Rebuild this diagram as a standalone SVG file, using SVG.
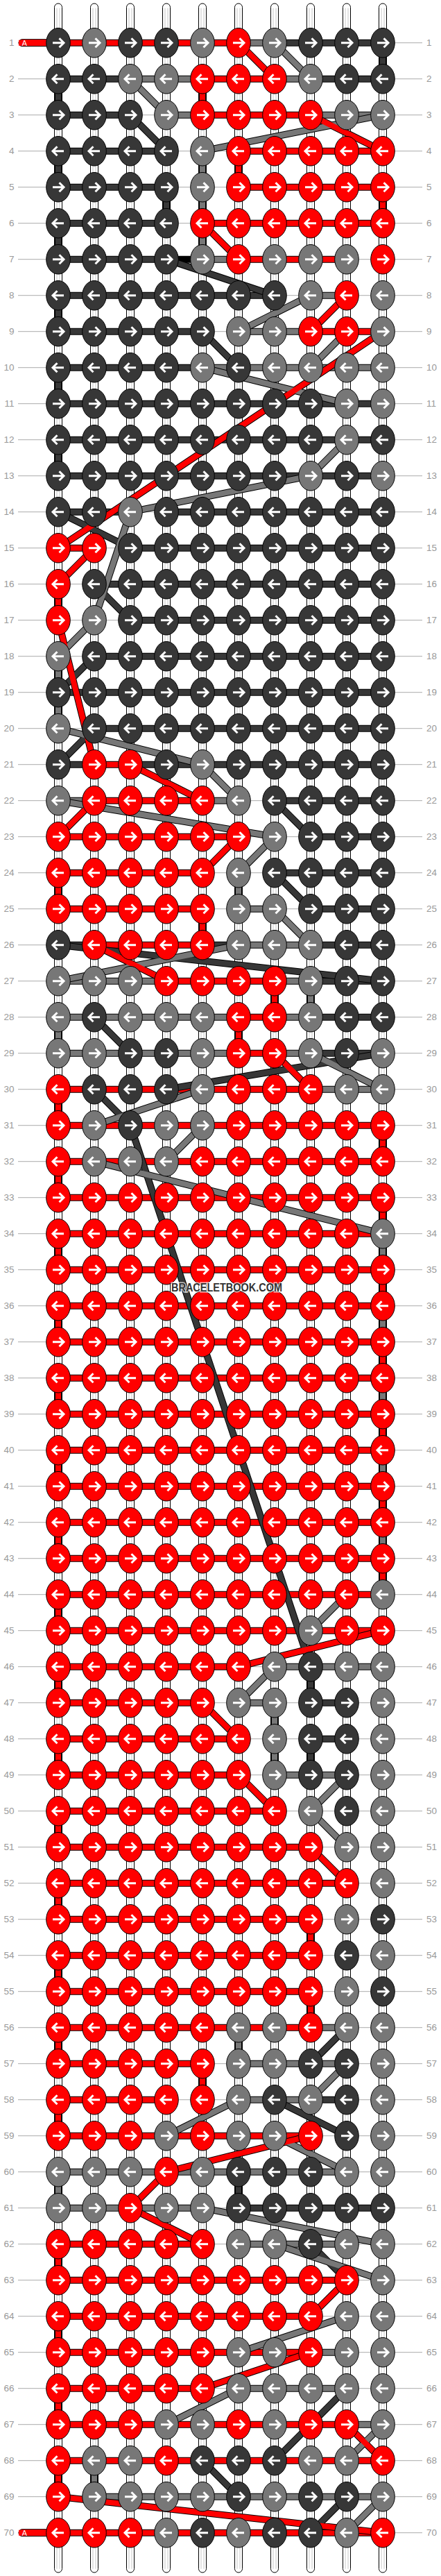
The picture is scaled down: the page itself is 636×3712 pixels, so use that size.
<svg xmlns="http://www.w3.org/2000/svg" width="636" height="3712" viewBox="0 0 636 3712">
<style>
.o{fill:none;stroke:#000;stroke-width:10}
.cR{fill:none;stroke:#f00;stroke-width:8}
.cG{fill:none;stroke:#777;stroke-width:8}
.cD{fill:none;stroke:#373737;stroke-width:8}
.lbl text{font-family:"Liberation Sans",Arial,sans-serif;font-size:13.5px;fill:#999}
.aw{fill:none;stroke:#fff;stroke-width:3}
</style>
<defs>
<g id="tb"><rect x="-5.5" y="-56.7" width="11" height="3702" rx="5.5" fill="#fff" stroke="#000"/><path d="M-2,-50V3640M2,-50V3640" stroke="#c8c8c8" stroke-width="1"/></g>
<path id="ar" d="M-8,0H7M1.5,-6.5L8,0L1.5,6.5" class="aw"/>
<path id="al" d="M8,0H-7M-1.5,-6.5L-8,0L-1.5,6.5" class="aw"/>
<g id="rR"><ellipse rx="17.3" ry="21.3" fill="#f00" stroke="#000"/><use href="#ar"/></g>
<g id="rG"><ellipse rx="17.3" ry="21.3" fill="#777" stroke="#000"/><use href="#ar"/></g>
<g id="rD"><ellipse rx="17.3" ry="21.3" fill="#373737" stroke="#000"/><use href="#ar"/></g>
<g id="lR"><ellipse rx="17.3" ry="21.3" fill="#f00" stroke="#000"/><use href="#al"/></g>
<g id="lG"><ellipse rx="17.3" ry="21.3" fill="#777" stroke="#000"/><use href="#al"/></g>
<g id="lD"><ellipse rx="17.3" ry="21.3" fill="#373737" stroke="#000"/><use href="#al"/></g>
</defs>
<rect width="636" height="3712" fill="#fff"/>
<g transform="translate(0,61.7)">
<g id="rowlines"><path fill="none" stroke="#bbb" stroke-width="1.3" d="M26 0H609M26 52H609M26 104H609M26 156H609M26 208H609M26 260H609M26 312H609M26 364H609M26 416H609M26 468H609M26 520H609M26 572H609M26 624H609M26 676H609M26 728H609M26 780H609M26 832H609M26 884H609M26 936H609M26 988H609M26 1040H609M26 1092H609M26 1144H609M26 1196H609M26 1248H609M26 1300H609M26 1352H609M26 1404H609M26 1456H609M26 1508H609M26 1560H609M26 1612H609M26 1664H609M26 1716H609M26 1768H609M26 1820H609M26 1872H609M26 1924H609M26 1976H609M26 2028H609M26 2080H609M26 2132H609M26 2184H609M26 2236H609M26 2288H609M26 2340H609M26 2392H609M26 2444H609M26 2496H609M26 2548H609M26 2600H609M26 2652H609M26 2704H609M26 2756H609M26 2808H609M26 2860H609M26 2912H609M26 2964H609M26 3016H609M26 3068H609M26 3120H609M26 3172H609M26 3224H609M26 3276H609M26 3328H609M26 3380H609M26 3432H609M26 3484H609M26 3536H609M26 3588H609"/></g>
<g id="labels" class="lbl">
<g text-anchor="end">
<text x="20.5" y="4.7">1</text><text x="20.5" y="56.7">2</text><text x="20.5" y="108.7">3</text><text x="20.5" y="160.7">4</text><text x="20.5" y="212.7">5</text><text x="20.5" y="264.7">6</text><text x="20.5" y="316.7">7</text><text x="20.5" y="368.7">8</text><text x="20.5" y="420.7">9</text><text x="20.5" y="472.7">10</text><text x="20.5" y="524.7">11</text><text x="20.5" y="576.7">12</text><text x="20.5" y="628.7">13</text><text x="20.5" y="680.7">14</text><text x="20.5" y="732.7">15</text><text x="20.5" y="784.7">16</text><text x="20.5" y="836.7">17</text><text x="20.5" y="888.7">18</text><text x="20.5" y="940.7">19</text><text x="20.5" y="992.7">20</text><text x="20.5" y="1044.7">21</text><text x="20.5" y="1096.7">22</text><text x="20.5" y="1148.7">23</text><text x="20.5" y="1200.7">24</text><text x="20.5" y="1252.7">25</text><text x="20.5" y="1304.7">26</text><text x="20.5" y="1356.7">27</text><text x="20.5" y="1408.7">28</text><text x="20.5" y="1460.7">29</text><text x="20.5" y="1512.7">30</text><text x="20.5" y="1564.7">31</text><text x="20.5" y="1616.7">32</text><text x="20.5" y="1668.7">33</text><text x="20.5" y="1720.7">34</text><text x="20.5" y="1772.7">35</text><text x="20.5" y="1824.7">36</text><text x="20.5" y="1876.7">37</text><text x="20.5" y="1928.7">38</text><text x="20.5" y="1980.7">39</text><text x="20.5" y="2032.7">40</text><text x="20.5" y="2084.7">41</text><text x="20.5" y="2136.7">42</text><text x="20.5" y="2188.7">43</text><text x="20.5" y="2240.7">44</text><text x="20.5" y="2292.7">45</text><text x="20.5" y="2344.7">46</text><text x="20.5" y="2396.7">47</text><text x="20.5" y="2448.7">48</text><text x="20.5" y="2500.7">49</text><text x="20.5" y="2552.7">50</text><text x="20.5" y="2604.7">51</text><text x="20.5" y="2656.7">52</text><text x="20.5" y="2708.7">53</text><text x="20.5" y="2760.7">54</text><text x="20.5" y="2812.7">55</text><text x="20.5" y="2864.7">56</text><text x="20.5" y="2916.7">57</text><text x="20.5" y="2968.7">58</text><text x="20.5" y="3020.7">59</text><text x="20.5" y="3072.7">60</text><text x="20.5" y="3124.7">61</text><text x="20.5" y="3176.7">62</text><text x="20.5" y="3228.7">63</text><text x="20.5" y="3280.7">64</text><text x="20.5" y="3332.7">65</text><text x="20.5" y="3384.7">66</text><text x="20.5" y="3436.7">67</text><text x="20.5" y="3488.7">68</text><text x="20.5" y="3540.7">69</text><text x="20.5" y="3592.7">70</text>
</g>
<g>
<text x="615" y="4.7">1</text><text x="615" y="56.7">2</text><text x="615" y="108.7">3</text><text x="615" y="160.7">4</text><text x="615" y="212.7">5</text><text x="615" y="264.7">6</text><text x="615" y="316.7">7</text><text x="615" y="368.7">8</text><text x="615" y="420.7">9</text><text x="615" y="472.7">10</text><text x="615" y="524.7">11</text><text x="615" y="576.7">12</text><text x="615" y="628.7">13</text><text x="615" y="680.7">14</text><text x="615" y="732.7">15</text><text x="615" y="784.7">16</text><text x="615" y="836.7">17</text><text x="615" y="888.7">18</text><text x="615" y="940.7">19</text><text x="615" y="992.7">20</text><text x="615" y="1044.7">21</text><text x="615" y="1096.7">22</text><text x="615" y="1148.7">23</text><text x="615" y="1200.7">24</text><text x="615" y="1252.7">25</text><text x="615" y="1304.7">26</text><text x="615" y="1356.7">27</text><text x="615" y="1408.7">28</text><text x="615" y="1460.7">29</text><text x="615" y="1512.7">30</text><text x="615" y="1564.7">31</text><text x="615" y="1616.7">32</text><text x="615" y="1668.7">33</text><text x="615" y="1720.7">34</text><text x="615" y="1772.7">35</text><text x="615" y="1824.7">36</text><text x="615" y="1876.7">37</text><text x="615" y="1928.7">38</text><text x="615" y="1980.7">39</text><text x="615" y="2032.7">40</text><text x="615" y="2084.7">41</text><text x="615" y="2136.7">42</text><text x="615" y="2188.7">43</text><text x="615" y="2240.7">44</text><text x="615" y="2292.7">45</text><text x="615" y="2344.7">46</text><text x="615" y="2396.7">47</text><text x="615" y="2448.7">48</text><text x="615" y="2500.7">49</text><text x="615" y="2552.7">50</text><text x="615" y="2604.7">51</text><text x="615" y="2656.7">52</text><text x="615" y="2708.7">53</text><text x="615" y="2760.7">54</text><text x="615" y="2812.7">55</text><text x="615" y="2864.7">56</text><text x="615" y="2916.7">57</text><text x="615" y="2968.7">58</text><text x="615" y="3020.7">59</text><text x="615" y="3072.7">60</text><text x="615" y="3124.7">61</text><text x="615" y="3176.7">62</text><text x="615" y="3228.7">63</text><text x="615" y="3280.7">64</text><text x="615" y="3332.7">65</text><text x="615" y="3384.7">66</text><text x="615" y="3436.7">67</text><text x="615" y="3488.7">68</text><text x="615" y="3540.7">69</text><text x="615" y="3592.7">70</text>
</g>
</g>
<g id="strands"><use href="#tb" x="84"/><use href="#tb" x="136"/><use href="#tb" x="188"/><use href="#tb" x="240"/><use href="#tb" x="292"/><use href="#tb" x="344"/><use href="#tb" x="396"/><use href="#tb" x="448"/><use href="#tb" x="500"/><use href="#tb" x="552"/></g>
<g id="connectors">
<g id="starts"><rect x="27" y="-5" width="70" height="10" rx="5" fill="#f00" stroke="#000"/><rect x="27" y="3583" width="70" height="10" rx="5" fill="#f00" stroke="#000"/></g>
<path id="bars-outline" class="o" d="M84 0H552M84 52H552M84 104H188M240 104H552M84 156H240M344 156H552M84 208H240M344 208H552M84 260H240M292 260H552M84 312H500M84 364H396M448 364H500M84 416H292M344 416H552M84 468H552M84 520H552M84 572H552M84 624H552M84 676H188M240 676H552M84 728H136M188 728H552M136 780H552M188 832H552M136 884H552M84 936H552M136 988H552M84 1040H552M84 1092H344M396 1092H552M84 1144H344M448 1144H552M84 1196H292M396 1196H552M84 1248H292M344 1248H396M448 1248H552M84 1300H552M84 1352H552M84 1404H552M84 1456H552M84 1508H552M84 1560H552M84 1612H552M84 1664H552M84 1716H552M84 1768H552M84 1820H552M84 1872H552M84 1924H552M84 1976H552M84 2028H552M84 2080H552M84 2132H552M84 2184H552M84 2236H552M84 2288H552M84 2340H344M396 2340H552M84 2392H292M344 2392H396M448 2392H500M84 2444H344M448 2444H500M84 2496H344M396 2496H500M84 2548H396M84 2600H448M84 2652H500M84 2704H448M84 2756H448M84 2808H448M84 2860H500M84 2912H292M344 2912H500M84 2964H240M344 2964H500M84 3016H448M84 3068H500M84 3120H292M344 3120H552M84 3172H292M344 3172H500M84 3224H500M84 3276H448M84 3328H500M84 3380H292M344 3380H500M84 3432H552M84 3484H552M136 3536H552M84 3588H552M552 0V52M84 52V104M84 156V208M240 208V260M84 260V312M84 364V416M84 468V520M84 572V624M448 2340V2392M448 2444V2496M344 3068V3120M292 52V104M344 156V208M552 208V260M84 780V832M84 1196V1248M292 1248V1300M396 1352V1404M344 1404V1456M84 1508V1560M552 1560V1612M552 1664V1716M552 1768V1820M552 1872V1924M552 1976V2028M552 2080V2132M552 2184V2236M84 1612V1664M84 1716V1768M84 1820V1872M84 1924V1976M84 2028V2080M84 2132V2184M84 2236V2288M84 2340V2392M84 2444V2496M84 2548V2600M84 2652V2704M84 2756V2808M84 2860V2912M84 2964V3016M84 3172V3224M84 3276V3328M84 3380V3432M84 3484V3536M448 2704V2756M448 2808V2860M292 2912V2964M292 156V312M84 884V988M344 1196V1248M448 1352V1404M84 1404V1456M552 1716V1768M552 1820V1872M552 1924V1976M552 2028V2080M552 2132V2184M396 2392V2496M344 2860V2912M84 3068V3120M136 3484V3536"/>
<path id="bars-red" class="cR" d="M27 0H344M292 52H396M292 104H448M344 156H552M344 208H552M292 260H552M344 312H500M448 416H552M84 728H136M136 1040H188M136 1092H292M84 1144H344M84 1196H292M84 1248H292M136 1300H292M240 1352H396M344 1404H396M344 1456H396M84 1508H448M84 1560H552M84 1612H552M84 1664H552M84 1716H552M84 1768H552M84 1820H552M84 1872H552M84 1924H552M84 1976H552M84 2028H552M84 2080H552M84 2132H552M84 2184H552M84 2236H552M84 2288H552M84 2340H344M84 2392H292M84 2444H344M84 2496H344M84 2548H396M84 2600H448M84 2652H500M84 2704H448M84 2756H448M84 2808H448M84 2860H448M84 2912H292M84 2964H240M84 3016H448M84 3172H292M84 3224H500M84 3276H448M84 3328H448M84 3380H292M84 3432H500M84 3484H552M27 3588H552M292 52V104M344 156V208M552 208V260M84 780V832M84 1196V1248M292 1248V1300M396 1352V1404M344 1404V1456M84 1508V1560M552 1560V1612M552 1664V1716M552 1768V1820M552 1872V1924M552 1976V2028M552 2080V2132M552 2184V2236M84 1612V1664M84 1716V1768M84 1820V1872M84 1924V1976M84 2028V2080M84 2132V2184M84 2236V2288M84 2340V2392M84 2444V2496M84 2548V2600M84 2652V2704M84 2756V2808M84 2860V2912M84 2964V3016M84 3172V3224M84 3276V3328M84 3380V3432M84 3484V3536M448 2704V2756M448 2808V2860M292 2912V2964"/>
<path id="bars-gray" class="cG" d="M344 0H396M188 52H292M396 52H448M240 104H292M448 104H552M292 312H344M448 364H500M344 416H448M292 468H552M84 1092H136M292 1092H344M344 1248H396M344 1300H448M84 1352H240M396 1352H448M84 1404H344M396 1404H448M84 1456H344M396 1456H448M448 1508H552M396 2340H552M344 2392H396M396 2496H500M448 2860H500M344 2912H500M344 2964H448M84 3068H500M84 3120H292M344 3172H500M448 3328H500M344 3380H500M500 3432H552M136 3536H552M292 156V312M84 884V988M344 1196V1248M448 1352V1404M84 1404V1456M552 1716V1768M552 1820V1872M552 1924V1976M552 2028V2080M552 2132V2184M396 2392V2496M344 2860V2912M84 3068V3120M136 3484V3536"/>
<path id="bars-dark" class="cD" d="M396 0H552M84 52H188M448 52H552M84 104H188M84 156H240M84 208H240M84 260H240M84 312H240M84 364H396M84 416H292M84 468H292M84 520H552M84 572H552M84 624H552M84 676H188M240 676H552M188 728H552M136 780H552M188 832H552M136 884H552M84 936H552M136 988H552M84 1040H136M188 1040H552M396 1092H552M448 1144H552M396 1196H552M448 1248H552M84 1300H136M292 1300H344M448 1300H552M448 1352H552M448 1404H552M448 1456H552M448 2392H500M448 2444H500M448 2964H500M344 3120H552M552 0V52M84 52V104M84 156V208M240 208V260M84 260V312M84 364V416M84 468V520M84 572V624M448 2340V2392M448 2444V2496M344 3068V3120"/>
<path id="diag-outline" class="o" d="M344 0L396 52M448 104L552 156M292 260L344 312M500 364L448 416M552 416L84 728M136 728L84 780M84 832L136 1040M188 1040L292 1092M136 1092L84 1144M344 1144L292 1196M136 1300L240 1352M396 1456L448 1508M552 2288L344 2340M292 2392L344 2444M344 2496L396 2548M448 2600L500 2652M448 3016L240 3068M240 3068L188 3120M188 3120L292 3172M500 3224L448 3276M448 3328L292 3380M500 3432L552 3484M84 3536L552 3588M396 0L448 52M188 52L240 104M552 104L292 156M448 364L344 416M500 416L448 468M292 468L500 520M500 572L448 624M448 624L188 676M188 676L136 832M136 832L84 884M84 988L292 1040M292 1040L344 1092M84 1092L396 1144M396 1144L344 1196M396 1248L448 1300M344 1300L84 1352M448 1456L552 1508M292 1508L136 1560M292 1560L240 1612M136 1612L552 1716M500 2236L448 2288M396 2340L344 2392M500 2496L448 2548M448 2548L500 2600M500 2912L448 2964M344 2964L240 3016M396 3016L500 3068M292 3120L552 3172M396 3172L552 3224M500 3276L344 3328M344 3380L240 3432M552 3432L500 3484M552 3536L500 3588M188 104L240 156M240 312L396 364M292 416L344 468M84 676L188 728M136 780L188 832M136 884L84 936M136 988L84 1040M396 1092L448 1144M396 1196L448 1248M84 1300L552 1352M136 1404L188 1456M552 1456L240 1508M136 1508L188 1560M188 1560L448 2340M500 2860L448 2912M396 2964L500 3016M448 3172L500 3224M500 3380L396 3484M292 3484L344 3536M500 3536L448 3588"/>
<path id="diag-dark" class="cD" d="M188 104L240 156M240 312L396 364M292 416L344 468M84 676L188 728M136 780L188 832M136 884L84 936M136 988L84 1040M396 1092L448 1144M396 1196L448 1248M84 1300L552 1352M136 1404L188 1456M552 1456L240 1508M136 1508L188 1560M188 1560L448 2340M500 2860L448 2912M396 2964L500 3016M448 3172L500 3224M500 3380L396 3484M292 3484L344 3536M500 3536L448 3588"/>
<path id="diag-gray" class="cG" d="M396 0L448 52M188 52L240 104M552 104L292 156M448 364L344 416M500 416L448 468M292 468L500 520M500 572L448 624M448 624L188 676M188 676L136 832M136 832L84 884M84 988L292 1040M292 1040L344 1092M84 1092L396 1144M396 1144L344 1196M396 1248L448 1300M344 1300L84 1352M448 1456L552 1508M292 1508L136 1560M292 1560L240 1612M136 1612L552 1716M500 2236L448 2288M396 2340L344 2392M500 2496L448 2548M448 2548L500 2600M500 2912L448 2964M344 2964L240 3016M396 3016L500 3068M292 3120L552 3172M396 3172L552 3224M500 3276L344 3328M344 3380L240 3432M552 3432L500 3484M552 3536L500 3588"/>
<path id="diag-red" class="cR" d="M344 0L396 52M448 104L552 156M292 260L344 312M500 364L448 416M552 416L84 728M136 728L84 780M84 832L136 1040M188 1040L292 1092M136 1092L84 1144M344 1144L292 1196M136 1300L240 1352M396 1456L448 1508M552 2288L344 2340M292 2392L344 2444M344 2496L396 2548M448 2600L500 2652M448 3016L240 3068M240 3068L188 3120M188 3120L292 3172M500 3224L448 3276M448 3328L292 3380M500 3432L552 3484M84 3536L552 3588"/>
<g id="start-labels" font-family="'DejaVu Sans',sans-serif" font-size="11" fill="#fff"><text x="31.5" y="4">A</text><text x="31.5" y="3592">A</text></g>
</g>
<g id="knots">
<g id="row1"><use id="k1-1" href="#rD" x="84"/><use id="k1-2" href="#rG" x="136"/><use id="k1-3" href="#rD" x="188"/><use id="k1-4" href="#rD" x="240"/><use id="k1-5" href="#rG" x="292"/><use id="k1-6" href="#rR" x="344"/><use id="k1-7" href="#rG" x="396"/><use id="k1-8" href="#rD" x="448"/><use id="k1-9" href="#rD" x="500"/><use id="k1-10" href="#rD" x="552"/></g>
<g id="row2" transform="translate(0,52)"><use id="k2-1" href="#lD" x="84"/><use id="k2-2" href="#lD" x="136"/><use id="k2-3" href="#lG" x="188"/><use id="k2-4" href="#lG" x="240"/><use id="k2-5" href="#lR" x="292"/><use id="k2-6" href="#lR" x="344"/><use id="k2-7" href="#lR" x="396"/><use id="k2-8" href="#lG" x="448"/><use id="k2-9" href="#lD" x="500"/><use id="k2-10" href="#lD" x="552"/></g>
<g id="row3" transform="translate(0,104)"><use id="k3-1" href="#rD" x="84"/><use id="k3-2" href="#rD" x="136"/><use id="k3-3" href="#rD" x="188"/><use id="k3-4" href="#rG" x="240"/><use id="k3-5" href="#rR" x="292"/><use id="k3-6" href="#rR" x="344"/><use id="k3-7" href="#rR" x="396"/><use id="k3-8" href="#rR" x="448"/><use id="k3-9" href="#rG" x="500"/><use id="k3-10" href="#rG" x="552"/></g>
<g id="row4" transform="translate(0,156)"><use id="k4-1" href="#lD" x="84"/><use id="k4-2" href="#lD" x="136"/><use id="k4-3" href="#lD" x="188"/><use id="k4-4" href="#lD" x="240"/><use id="k4-5" href="#lG" x="292"/><use id="k4-6" href="#lR" x="344"/><use id="k4-7" href="#lR" x="396"/><use id="k4-8" href="#lR" x="448"/><use id="k4-9" href="#lR" x="500"/><use id="k4-10" href="#lR" x="552"/></g>
<g id="row5" transform="translate(0,208)"><use id="k5-1" href="#rD" x="84"/><use id="k5-2" href="#rD" x="136"/><use id="k5-3" href="#rD" x="188"/><use id="k5-4" href="#rD" x="240"/><use id="k5-5" href="#rG" x="292"/><use id="k5-6" href="#rR" x="344"/><use id="k5-7" href="#rR" x="396"/><use id="k5-8" href="#rR" x="448"/><use id="k5-9" href="#rR" x="500"/><use id="k5-10" href="#rR" x="552"/></g>
<g id="row6" transform="translate(0,260)"><use id="k6-1" href="#lD" x="84"/><use id="k6-2" href="#lD" x="136"/><use id="k6-3" href="#lD" x="188"/><use id="k6-4" href="#lD" x="240"/><use id="k6-5" href="#lR" x="292"/><use id="k6-6" href="#lR" x="344"/><use id="k6-7" href="#lR" x="396"/><use id="k6-8" href="#lR" x="448"/><use id="k6-9" href="#lR" x="500"/><use id="k6-10" href="#lR" x="552"/></g>
<g id="row7" transform="translate(0,312)"><use id="k7-1" href="#rD" x="84"/><use id="k7-2" href="#rD" x="136"/><use id="k7-3" href="#rD" x="188"/><use id="k7-4" href="#rD" x="240"/><use id="k7-5" href="#rG" x="292"/><use id="k7-6" href="#rR" x="344"/><use id="k7-7" href="#rG" x="396"/><use id="k7-8" href="#rG" x="448"/><use id="k7-9" href="#rG" x="500"/><use id="k7-10" href="#rR" x="552"/></g>
<g id="row8" transform="translate(0,364)"><use id="k8-1" href="#lD" x="84"/><use id="k8-2" href="#lD" x="136"/><use id="k8-3" href="#lD" x="188"/><use id="k8-4" href="#lD" x="240"/><use id="k8-5" href="#lD" x="292"/><use id="k8-6" href="#lD" x="344"/><use id="k8-7" href="#lD" x="396"/><use id="k8-8" href="#lG" x="448"/><use id="k8-9" href="#lR" x="500"/><use id="k8-10" href="#lG" x="552"/></g>
<g id="row9" transform="translate(0,416)"><use id="k9-1" href="#rD" x="84"/><use id="k9-2" href="#rD" x="136"/><use id="k9-3" href="#rD" x="188"/><use id="k9-4" href="#rD" x="240"/><use id="k9-5" href="#rD" x="292"/><use id="k9-6" href="#rG" x="344"/><use id="k9-7" href="#rG" x="396"/><use id="k9-8" href="#rR" x="448"/><use id="k9-9" href="#rR" x="500"/><use id="k9-10" href="#rG" x="552"/></g>
<g id="row10" transform="translate(0,468)"><use id="k10-1" href="#lD" x="84"/><use id="k10-2" href="#lD" x="136"/><use id="k10-3" href="#lD" x="188"/><use id="k10-4" href="#lD" x="240"/><use id="k10-5" href="#lG" x="292"/><use id="k10-6" href="#lD" x="344"/><use id="k10-7" href="#lG" x="396"/><use id="k10-8" href="#lG" x="448"/><use id="k10-9" href="#lG" x="500"/><use id="k10-10" href="#lG" x="552"/></g>
<g id="row11" transform="translate(0,520)"><use id="k11-1" href="#rD" x="84"/><use id="k11-2" href="#rD" x="136"/><use id="k11-3" href="#rD" x="188"/><use id="k11-4" href="#rD" x="240"/><use id="k11-5" href="#rD" x="292"/><use id="k11-6" href="#rD" x="344"/><use id="k11-7" href="#rD" x="396"/><use id="k11-8" href="#rD" x="448"/><use id="k11-9" href="#rG" x="500"/><use id="k11-10" href="#rG" x="552"/></g>
<g id="row12" transform="translate(0,572)"><use id="k12-1" href="#lD" x="84"/><use id="k12-2" href="#lD" x="136"/><use id="k12-3" href="#lD" x="188"/><use id="k12-4" href="#lD" x="240"/><use id="k12-5" href="#lD" x="292"/><use id="k12-6" href="#lD" x="344"/><use id="k12-7" href="#lD" x="396"/><use id="k12-8" href="#lD" x="448"/><use id="k12-9" href="#lG" x="500"/><use id="k12-10" href="#lD" x="552"/></g>
<g id="row13" transform="translate(0,624)"><use id="k13-1" href="#rD" x="84"/><use id="k13-2" href="#rD" x="136"/><use id="k13-3" href="#rD" x="188"/><use id="k13-4" href="#rD" x="240"/><use id="k13-5" href="#rD" x="292"/><use id="k13-6" href="#rD" x="344"/><use id="k13-7" href="#rD" x="396"/><use id="k13-8" href="#rG" x="448"/><use id="k13-9" href="#rD" x="500"/><use id="k13-10" href="#rG" x="552"/></g>
<g id="row14" transform="translate(0,676)"><use id="k14-1" href="#lD" x="84"/><use id="k14-2" href="#lD" x="136"/><use id="k14-3" href="#lG" x="188"/><use id="k14-4" href="#lD" x="240"/><use id="k14-5" href="#lD" x="292"/><use id="k14-6" href="#lD" x="344"/><use id="k14-7" href="#lD" x="396"/><use id="k14-8" href="#lD" x="448"/><use id="k14-9" href="#lD" x="500"/><use id="k14-10" href="#lD" x="552"/></g>
<g id="row15" transform="translate(0,728)"><use id="k15-1" href="#rR" x="84"/><use id="k15-2" href="#rR" x="136"/><use id="k15-3" href="#rD" x="188"/><use id="k15-4" href="#rD" x="240"/><use id="k15-5" href="#rD" x="292"/><use id="k15-6" href="#rD" x="344"/><use id="k15-7" href="#rD" x="396"/><use id="k15-8" href="#rD" x="448"/><use id="k15-9" href="#rD" x="500"/><use id="k15-10" href="#rD" x="552"/></g>
<g id="row16" transform="translate(0,780)"><use id="k16-1" href="#lR" x="84"/><use id="k16-2" href="#lD" x="136"/><use id="k16-3" href="#lD" x="188"/><use id="k16-4" href="#lD" x="240"/><use id="k16-5" href="#lD" x="292"/><use id="k16-6" href="#lD" x="344"/><use id="k16-7" href="#lD" x="396"/><use id="k16-8" href="#lD" x="448"/><use id="k16-9" href="#lD" x="500"/><use id="k16-10" href="#lD" x="552"/></g>
<g id="row17" transform="translate(0,832)"><use id="k17-1" href="#rR" x="84"/><use id="k17-2" href="#rG" x="136"/><use id="k17-3" href="#rD" x="188"/><use id="k17-4" href="#rD" x="240"/><use id="k17-5" href="#rD" x="292"/><use id="k17-6" href="#rD" x="344"/><use id="k17-7" href="#rD" x="396"/><use id="k17-8" href="#rD" x="448"/><use id="k17-9" href="#rD" x="500"/><use id="k17-10" href="#rD" x="552"/></g>
<g id="row18" transform="translate(0,884)"><use id="k18-1" href="#lG" x="84"/><use id="k18-2" href="#lD" x="136"/><use id="k18-3" href="#lD" x="188"/><use id="k18-4" href="#lD" x="240"/><use id="k18-5" href="#lD" x="292"/><use id="k18-6" href="#lD" x="344"/><use id="k18-7" href="#lD" x="396"/><use id="k18-8" href="#lD" x="448"/><use id="k18-9" href="#lD" x="500"/><use id="k18-10" href="#lD" x="552"/></g>
<g id="row19" transform="translate(0,936)"><use id="k19-1" href="#rD" x="84"/><use id="k19-2" href="#rD" x="136"/><use id="k19-3" href="#rD" x="188"/><use id="k19-4" href="#rD" x="240"/><use id="k19-5" href="#rD" x="292"/><use id="k19-6" href="#rD" x="344"/><use id="k19-7" href="#rD" x="396"/><use id="k19-8" href="#rD" x="448"/><use id="k19-9" href="#rD" x="500"/><use id="k19-10" href="#rD" x="552"/></g>
<g id="row20" transform="translate(0,988)"><use id="k20-1" href="#lG" x="84"/><use id="k20-2" href="#lD" x="136"/><use id="k20-3" href="#lD" x="188"/><use id="k20-4" href="#lD" x="240"/><use id="k20-5" href="#lD" x="292"/><use id="k20-6" href="#lD" x="344"/><use id="k20-7" href="#lD" x="396"/><use id="k20-8" href="#lD" x="448"/><use id="k20-9" href="#lD" x="500"/><use id="k20-10" href="#lD" x="552"/></g>
<g id="row21" transform="translate(0,1040)"><use id="k21-1" href="#rD" x="84"/><use id="k21-2" href="#rR" x="136"/><use id="k21-3" href="#rR" x="188"/><use id="k21-4" href="#rD" x="240"/><use id="k21-5" href="#rG" x="292"/><use id="k21-6" href="#rD" x="344"/><use id="k21-7" href="#rD" x="396"/><use id="k21-8" href="#rD" x="448"/><use id="k21-9" href="#rD" x="500"/><use id="k21-10" href="#rD" x="552"/></g>
<g id="row22" transform="translate(0,1092)"><use id="k22-1" href="#lG" x="84"/><use id="k22-2" href="#lR" x="136"/><use id="k22-3" href="#lR" x="188"/><use id="k22-4" href="#lR" x="240"/><use id="k22-5" href="#lR" x="292"/><use id="k22-6" href="#lG" x="344"/><use id="k22-7" href="#lD" x="396"/><use id="k22-8" href="#lD" x="448"/><use id="k22-9" href="#lD" x="500"/><use id="k22-10" href="#lD" x="552"/></g>
<g id="row23" transform="translate(0,1144)"><use id="k23-1" href="#rR" x="84"/><use id="k23-2" href="#rR" x="136"/><use id="k23-3" href="#rR" x="188"/><use id="k23-4" href="#rR" x="240"/><use id="k23-5" href="#rR" x="292"/><use id="k23-6" href="#rR" x="344"/><use id="k23-7" href="#rG" x="396"/><use id="k23-8" href="#rD" x="448"/><use id="k23-9" href="#rD" x="500"/><use id="k23-10" href="#rD" x="552"/></g>
<g id="row24" transform="translate(0,1196)"><use id="k24-1" href="#lR" x="84"/><use id="k24-2" href="#lR" x="136"/><use id="k24-3" href="#lR" x="188"/><use id="k24-4" href="#lR" x="240"/><use id="k24-5" href="#lR" x="292"/><use id="k24-6" href="#lG" x="344"/><use id="k24-7" href="#lD" x="396"/><use id="k24-8" href="#lD" x="448"/><use id="k24-9" href="#lD" x="500"/><use id="k24-10" href="#lD" x="552"/></g>
<g id="row25" transform="translate(0,1248)"><use id="k25-1" href="#rR" x="84"/><use id="k25-2" href="#rR" x="136"/><use id="k25-3" href="#rR" x="188"/><use id="k25-4" href="#rR" x="240"/><use id="k25-5" href="#rR" x="292"/><use id="k25-6" href="#rG" x="344"/><use id="k25-7" href="#rG" x="396"/><use id="k25-8" href="#rD" x="448"/><use id="k25-9" href="#rD" x="500"/><use id="k25-10" href="#rD" x="552"/></g>
<g id="row26" transform="translate(0,1300)"><use id="k26-1" href="#lD" x="84"/><use id="k26-2" href="#lR" x="136"/><use id="k26-3" href="#lR" x="188"/><use id="k26-4" href="#lR" x="240"/><use id="k26-5" href="#lR" x="292"/><use id="k26-6" href="#lG" x="344"/><use id="k26-7" href="#lG" x="396"/><use id="k26-8" href="#lG" x="448"/><use id="k26-9" href="#lD" x="500"/><use id="k26-10" href="#lD" x="552"/></g>
<g id="row27" transform="translate(0,1352)"><use id="k27-1" href="#rG" x="84"/><use id="k27-2" href="#rG" x="136"/><use id="k27-3" href="#rG" x="188"/><use id="k27-4" href="#rR" x="240"/><use id="k27-5" href="#rR" x="292"/><use id="k27-6" href="#rR" x="344"/><use id="k27-7" href="#rR" x="396"/><use id="k27-8" href="#rG" x="448"/><use id="k27-9" href="#rD" x="500"/><use id="k27-10" href="#rD" x="552"/></g>
<g id="row28" transform="translate(0,1404)"><use id="k28-1" href="#lG" x="84"/><use id="k28-2" href="#lD" x="136"/><use id="k28-3" href="#lG" x="188"/><use id="k28-4" href="#lG" x="240"/><use id="k28-5" href="#lG" x="292"/><use id="k28-6" href="#lR" x="344"/><use id="k28-7" href="#lR" x="396"/><use id="k28-8" href="#lG" x="448"/><use id="k28-9" href="#lD" x="500"/><use id="k28-10" href="#lD" x="552"/></g>
<g id="row29" transform="translate(0,1456)"><use id="k29-1" href="#rG" x="84"/><use id="k29-2" href="#rG" x="136"/><use id="k29-3" href="#rD" x="188"/><use id="k29-4" href="#rD" x="240"/><use id="k29-5" href="#rG" x="292"/><use id="k29-6" href="#rR" x="344"/><use id="k29-7" href="#rR" x="396"/><use id="k29-8" href="#rG" x="448"/><use id="k29-9" href="#rD" x="500"/><use id="k29-10" href="#rG" x="552"/></g>
<g id="row30" transform="translate(0,1508)"><use id="k30-1" href="#lR" x="84"/><use id="k30-2" href="#lD" x="136"/><use id="k30-3" href="#lD" x="188"/><use id="k30-4" href="#lD" x="240"/><use id="k30-5" href="#lG" x="292"/><use id="k30-6" href="#lR" x="344"/><use id="k30-7" href="#lR" x="396"/><use id="k30-8" href="#lR" x="448"/><use id="k30-9" href="#lG" x="500"/><use id="k30-10" href="#lG" x="552"/></g>
<g id="row31" transform="translate(0,1560)"><use id="k31-1" href="#rR" x="84"/><use id="k31-2" href="#rG" x="136"/><use id="k31-3" href="#rD" x="188"/><use id="k31-4" href="#rG" x="240"/><use id="k31-5" href="#rG" x="292"/><use id="k31-6" href="#rR" x="344"/><use id="k31-7" href="#rR" x="396"/><use id="k31-8" href="#rR" x="448"/><use id="k31-9" href="#rR" x="500"/><use id="k31-10" href="#rR" x="552"/></g>
<g id="row32" transform="translate(0,1612)"><use id="k32-1" href="#lR" x="84"/><use id="k32-2" href="#lG" x="136"/><use id="k32-3" href="#lG" x="188"/><use id="k32-4" href="#lG" x="240"/><use id="k32-5" href="#lR" x="292"/><use id="k32-6" href="#lR" x="344"/><use id="k32-7" href="#lR" x="396"/><use id="k32-8" href="#lR" x="448"/><use id="k32-9" href="#lR" x="500"/><use id="k32-10" href="#lR" x="552"/></g>
<g id="row33" transform="translate(0,1664)"><use id="k33-1" href="#rR" x="84"/><use id="k33-2" href="#rR" x="136"/><use id="k33-3" href="#rR" x="188"/><use id="k33-4" href="#rR" x="240"/><use id="k33-5" href="#rR" x="292"/><use id="k33-6" href="#rR" x="344"/><use id="k33-7" href="#rR" x="396"/><use id="k33-8" href="#rR" x="448"/><use id="k33-9" href="#rR" x="500"/><use id="k33-10" href="#rR" x="552"/></g>
<g id="row34" transform="translate(0,1716)"><use id="k34-1" href="#lR" x="84"/><use id="k34-2" href="#lR" x="136"/><use id="k34-3" href="#lR" x="188"/><use id="k34-4" href="#lR" x="240"/><use id="k34-5" href="#lR" x="292"/><use id="k34-6" href="#lR" x="344"/><use id="k34-7" href="#lR" x="396"/><use id="k34-8" href="#lR" x="448"/><use id="k34-9" href="#lR" x="500"/><use id="k34-10" href="#lG" x="552"/></g>
<g id="row35" transform="translate(0,1768)"><use id="k35-1" href="#rR" x="84"/><use id="k35-2" href="#rR" x="136"/><use id="k35-3" href="#rR" x="188"/><use id="k35-4" href="#rR" x="240"/><use id="k35-5" href="#rR" x="292"/><use id="k35-6" href="#rR" x="344"/><use id="k35-7" href="#rR" x="396"/><use id="k35-8" href="#rR" x="448"/><use id="k35-9" href="#rR" x="500"/><use id="k35-10" href="#rR" x="552"/></g>
<g id="row36" transform="translate(0,1820)"><use id="k36-1" href="#lR" x="84"/><use id="k36-2" href="#lR" x="136"/><use id="k36-3" href="#lR" x="188"/><use id="k36-4" href="#lR" x="240"/><use id="k36-5" href="#lR" x="292"/><use id="k36-6" href="#lR" x="344"/><use id="k36-7" href="#lR" x="396"/><use id="k36-8" href="#lR" x="448"/><use id="k36-9" href="#lR" x="500"/><use id="k36-10" href="#lR" x="552"/></g>
<g id="row37" transform="translate(0,1872)"><use id="k37-1" href="#rR" x="84"/><use id="k37-2" href="#rR" x="136"/><use id="k37-3" href="#rR" x="188"/><use id="k37-4" href="#rR" x="240"/><use id="k37-5" href="#rR" x="292"/><use id="k37-6" href="#rR" x="344"/><use id="k37-7" href="#rR" x="396"/><use id="k37-8" href="#rR" x="448"/><use id="k37-9" href="#rR" x="500"/><use id="k37-10" href="#rR" x="552"/></g>
<g id="row38" transform="translate(0,1924)"><use id="k38-1" href="#lR" x="84"/><use id="k38-2" href="#lR" x="136"/><use id="k38-3" href="#lR" x="188"/><use id="k38-4" href="#lR" x="240"/><use id="k38-5" href="#lR" x="292"/><use id="k38-6" href="#lR" x="344"/><use id="k38-7" href="#lR" x="396"/><use id="k38-8" href="#lR" x="448"/><use id="k38-9" href="#lR" x="500"/><use id="k38-10" href="#lR" x="552"/></g>
<g id="row39" transform="translate(0,1976)"><use id="k39-1" href="#rR" x="84"/><use id="k39-2" href="#rR" x="136"/><use id="k39-3" href="#rR" x="188"/><use id="k39-4" href="#rR" x="240"/><use id="k39-5" href="#rR" x="292"/><use id="k39-6" href="#rR" x="344"/><use id="k39-7" href="#rR" x="396"/><use id="k39-8" href="#rR" x="448"/><use id="k39-9" href="#rR" x="500"/><use id="k39-10" href="#rR" x="552"/></g>
<g id="row40" transform="translate(0,2028)"><use id="k40-1" href="#lR" x="84"/><use id="k40-2" href="#lR" x="136"/><use id="k40-3" href="#lR" x="188"/><use id="k40-4" href="#lR" x="240"/><use id="k40-5" href="#lR" x="292"/><use id="k40-6" href="#lR" x="344"/><use id="k40-7" href="#lR" x="396"/><use id="k40-8" href="#lR" x="448"/><use id="k40-9" href="#lR" x="500"/><use id="k40-10" href="#lR" x="552"/></g>
<g id="row41" transform="translate(0,2080)"><use id="k41-1" href="#rR" x="84"/><use id="k41-2" href="#rR" x="136"/><use id="k41-3" href="#rR" x="188"/><use id="k41-4" href="#rR" x="240"/><use id="k41-5" href="#rR" x="292"/><use id="k41-6" href="#rR" x="344"/><use id="k41-7" href="#rR" x="396"/><use id="k41-8" href="#rR" x="448"/><use id="k41-9" href="#rR" x="500"/><use id="k41-10" href="#rR" x="552"/></g>
<g id="row42" transform="translate(0,2132)"><use id="k42-1" href="#lR" x="84"/><use id="k42-2" href="#lR" x="136"/><use id="k42-3" href="#lR" x="188"/><use id="k42-4" href="#lR" x="240"/><use id="k42-5" href="#lR" x="292"/><use id="k42-6" href="#lR" x="344"/><use id="k42-7" href="#lR" x="396"/><use id="k42-8" href="#lR" x="448"/><use id="k42-9" href="#lR" x="500"/><use id="k42-10" href="#lR" x="552"/></g>
<g id="row43" transform="translate(0,2184)"><use id="k43-1" href="#rR" x="84"/><use id="k43-2" href="#rR" x="136"/><use id="k43-3" href="#rR" x="188"/><use id="k43-4" href="#rR" x="240"/><use id="k43-5" href="#rR" x="292"/><use id="k43-6" href="#rR" x="344"/><use id="k43-7" href="#rR" x="396"/><use id="k43-8" href="#rR" x="448"/><use id="k43-9" href="#rR" x="500"/><use id="k43-10" href="#rR" x="552"/></g>
<g id="row44" transform="translate(0,2236)"><use id="k44-1" href="#lR" x="84"/><use id="k44-2" href="#lR" x="136"/><use id="k44-3" href="#lR" x="188"/><use id="k44-4" href="#lR" x="240"/><use id="k44-5" href="#lR" x="292"/><use id="k44-6" href="#lR" x="344"/><use id="k44-7" href="#lR" x="396"/><use id="k44-8" href="#lR" x="448"/><use id="k44-9" href="#lR" x="500"/><use id="k44-10" href="#lG" x="552"/></g>
<g id="row45" transform="translate(0,2288)"><use id="k45-1" href="#rR" x="84"/><use id="k45-2" href="#rR" x="136"/><use id="k45-3" href="#rR" x="188"/><use id="k45-4" href="#rR" x="240"/><use id="k45-5" href="#rR" x="292"/><use id="k45-6" href="#rR" x="344"/><use id="k45-7" href="#rR" x="396"/><use id="k45-8" href="#rG" x="448"/><use id="k45-9" href="#rR" x="500"/><use id="k45-10" href="#rR" x="552"/></g>
<g id="row46" transform="translate(0,2340)"><use id="k46-1" href="#lR" x="84"/><use id="k46-2" href="#lR" x="136"/><use id="k46-3" href="#lR" x="188"/><use id="k46-4" href="#lR" x="240"/><use id="k46-5" href="#lR" x="292"/><use id="k46-6" href="#lR" x="344"/><use id="k46-7" href="#lG" x="396"/><use id="k46-8" href="#lD" x="448"/><use id="k46-9" href="#lG" x="500"/><use id="k46-10" href="#lG" x="552"/></g>
<g id="row47" transform="translate(0,2392)"><use id="k47-1" href="#rR" x="84"/><use id="k47-2" href="#rR" x="136"/><use id="k47-3" href="#rR" x="188"/><use id="k47-4" href="#rR" x="240"/><use id="k47-5" href="#rR" x="292"/><use id="k47-6" href="#rG" x="344"/><use id="k47-7" href="#rG" x="396"/><use id="k47-8" href="#rD" x="448"/><use id="k47-9" href="#rD" x="500"/><use id="k47-10" href="#rG" x="552"/></g>
<g id="row48" transform="translate(0,2444)"><use id="k48-1" href="#lR" x="84"/><use id="k48-2" href="#lR" x="136"/><use id="k48-3" href="#lR" x="188"/><use id="k48-4" href="#lR" x="240"/><use id="k48-5" href="#lR" x="292"/><use id="k48-6" href="#lR" x="344"/><use id="k48-7" href="#lG" x="396"/><use id="k48-8" href="#lD" x="448"/><use id="k48-9" href="#lD" x="500"/><use id="k48-10" href="#lG" x="552"/></g>
<g id="row49" transform="translate(0,2496)"><use id="k49-1" href="#rR" x="84"/><use id="k49-2" href="#rR" x="136"/><use id="k49-3" href="#rR" x="188"/><use id="k49-4" href="#rR" x="240"/><use id="k49-5" href="#rR" x="292"/><use id="k49-6" href="#rR" x="344"/><use id="k49-7" href="#rG" x="396"/><use id="k49-8" href="#rD" x="448"/><use id="k49-9" href="#rD" x="500"/><use id="k49-10" href="#rG" x="552"/></g>
<g id="row50" transform="translate(0,2548)"><use id="k50-1" href="#lR" x="84"/><use id="k50-2" href="#lR" x="136"/><use id="k50-3" href="#lR" x="188"/><use id="k50-4" href="#lR" x="240"/><use id="k50-5" href="#lR" x="292"/><use id="k50-6" href="#lR" x="344"/><use id="k50-7" href="#lR" x="396"/><use id="k50-8" href="#lG" x="448"/><use id="k50-9" href="#lD" x="500"/><use id="k50-10" href="#lG" x="552"/></g>
<g id="row51" transform="translate(0,2600)"><use id="k51-1" href="#rR" x="84"/><use id="k51-2" href="#rR" x="136"/><use id="k51-3" href="#rR" x="188"/><use id="k51-4" href="#rR" x="240"/><use id="k51-5" href="#rR" x="292"/><use id="k51-6" href="#rR" x="344"/><use id="k51-7" href="#rR" x="396"/><use id="k51-8" href="#rR" x="448"/><use id="k51-9" href="#rG" x="500"/><use id="k51-10" href="#rG" x="552"/></g>
<g id="row52" transform="translate(0,2652)"><use id="k52-1" href="#lR" x="84"/><use id="k52-2" href="#lR" x="136"/><use id="k52-3" href="#lR" x="188"/><use id="k52-4" href="#lR" x="240"/><use id="k52-5" href="#lR" x="292"/><use id="k52-6" href="#lR" x="344"/><use id="k52-7" href="#lR" x="396"/><use id="k52-8" href="#lR" x="448"/><use id="k52-9" href="#lR" x="500"/><use id="k52-10" href="#lG" x="552"/></g>
<g id="row53" transform="translate(0,2704)"><use id="k53-1" href="#rR" x="84"/><use id="k53-2" href="#rR" x="136"/><use id="k53-3" href="#rR" x="188"/><use id="k53-4" href="#rR" x="240"/><use id="k53-5" href="#rR" x="292"/><use id="k53-6" href="#rR" x="344"/><use id="k53-7" href="#rR" x="396"/><use id="k53-8" href="#rR" x="448"/><use id="k53-9" href="#rG" x="500"/><use id="k53-10" href="#rD" x="552"/></g>
<g id="row54" transform="translate(0,2756)"><use id="k54-1" href="#lR" x="84"/><use id="k54-2" href="#lR" x="136"/><use id="k54-3" href="#lR" x="188"/><use id="k54-4" href="#lR" x="240"/><use id="k54-5" href="#lR" x="292"/><use id="k54-6" href="#lR" x="344"/><use id="k54-7" href="#lR" x="396"/><use id="k54-8" href="#lR" x="448"/><use id="k54-9" href="#lD" x="500"/><use id="k54-10" href="#lG" x="552"/></g>
<g id="row55" transform="translate(0,2808)"><use id="k55-1" href="#rR" x="84"/><use id="k55-2" href="#rR" x="136"/><use id="k55-3" href="#rR" x="188"/><use id="k55-4" href="#rR" x="240"/><use id="k55-5" href="#rR" x="292"/><use id="k55-6" href="#rR" x="344"/><use id="k55-7" href="#rR" x="396"/><use id="k55-8" href="#rR" x="448"/><use id="k55-9" href="#rG" x="500"/><use id="k55-10" href="#rD" x="552"/></g>
<g id="row56" transform="translate(0,2860)"><use id="k56-1" href="#lR" x="84"/><use id="k56-2" href="#lR" x="136"/><use id="k56-3" href="#lR" x="188"/><use id="k56-4" href="#lR" x="240"/><use id="k56-5" href="#lR" x="292"/><use id="k56-6" href="#lG" x="344"/><use id="k56-7" href="#lG" x="396"/><use id="k56-8" href="#lR" x="448"/><use id="k56-9" href="#lG" x="500"/><use id="k56-10" href="#lG" x="552"/></g>
<g id="row57" transform="translate(0,2912)"><use id="k57-1" href="#rR" x="84"/><use id="k57-2" href="#rR" x="136"/><use id="k57-3" href="#rR" x="188"/><use id="k57-4" href="#rR" x="240"/><use id="k57-5" href="#rR" x="292"/><use id="k57-6" href="#rG" x="344"/><use id="k57-7" href="#rG" x="396"/><use id="k57-8" href="#rD" x="448"/><use id="k57-9" href="#rD" x="500"/><use id="k57-10" href="#rG" x="552"/></g>
<g id="row58" transform="translate(0,2964)"><use id="k58-1" href="#lR" x="84"/><use id="k58-2" href="#lR" x="136"/><use id="k58-3" href="#lR" x="188"/><use id="k58-4" href="#lR" x="240"/><use id="k58-5" href="#lR" x="292"/><use id="k58-6" href="#lG" x="344"/><use id="k58-7" href="#lD" x="396"/><use id="k58-8" href="#lG" x="448"/><use id="k58-9" href="#lD" x="500"/><use id="k58-10" href="#lG" x="552"/></g>
<g id="row59" transform="translate(0,3016)"><use id="k59-1" href="#rR" x="84"/><use id="k59-2" href="#rR" x="136"/><use id="k59-3" href="#rR" x="188"/><use id="k59-4" href="#rG" x="240"/><use id="k59-5" href="#rR" x="292"/><use id="k59-6" href="#rG" x="344"/><use id="k59-7" href="#rG" x="396"/><use id="k59-8" href="#rR" x="448"/><use id="k59-9" href="#rD" x="500"/><use id="k59-10" href="#rG" x="552"/></g>
<g id="row60" transform="translate(0,3068)"><use id="k60-1" href="#lG" x="84"/><use id="k60-2" href="#lG" x="136"/><use id="k60-3" href="#lG" x="188"/><use id="k60-4" href="#lR" x="240"/><use id="k60-5" href="#lG" x="292"/><use id="k60-6" href="#lD" x="344"/><use id="k60-7" href="#lD" x="396"/><use id="k60-8" href="#lD" x="448"/><use id="k60-9" href="#lG" x="500"/><use id="k60-10" href="#lG" x="552"/></g>
<g id="row61" transform="translate(0,3120)"><use id="k61-1" href="#rG" x="84"/><use id="k61-2" href="#rG" x="136"/><use id="k61-3" href="#rR" x="188"/><use id="k61-4" href="#rG" x="240"/><use id="k61-5" href="#rG" x="292"/><use id="k61-6" href="#rD" x="344"/><use id="k61-7" href="#rD" x="396"/><use id="k61-8" href="#rD" x="448"/><use id="k61-9" href="#rD" x="500"/><use id="k61-10" href="#rD" x="552"/></g>
<g id="row62" transform="translate(0,3172)"><use id="k62-1" href="#lR" x="84"/><use id="k62-2" href="#lR" x="136"/><use id="k62-3" href="#lR" x="188"/><use id="k62-4" href="#lR" x="240"/><use id="k62-5" href="#lR" x="292"/><use id="k62-6" href="#lG" x="344"/><use id="k62-7" href="#lG" x="396"/><use id="k62-8" href="#lD" x="448"/><use id="k62-9" href="#lG" x="500"/><use id="k62-10" href="#lG" x="552"/></g>
<g id="row63" transform="translate(0,3224)"><use id="k63-1" href="#rR" x="84"/><use id="k63-2" href="#rR" x="136"/><use id="k63-3" href="#rR" x="188"/><use id="k63-4" href="#rR" x="240"/><use id="k63-5" href="#rR" x="292"/><use id="k63-6" href="#rR" x="344"/><use id="k63-7" href="#rR" x="396"/><use id="k63-8" href="#rR" x="448"/><use id="k63-9" href="#rR" x="500"/><use id="k63-10" href="#rG" x="552"/></g>
<g id="row64" transform="translate(0,3276)"><use id="k64-1" href="#lR" x="84"/><use id="k64-2" href="#lR" x="136"/><use id="k64-3" href="#lR" x="188"/><use id="k64-4" href="#lR" x="240"/><use id="k64-5" href="#lR" x="292"/><use id="k64-6" href="#lR" x="344"/><use id="k64-7" href="#lR" x="396"/><use id="k64-8" href="#lR" x="448"/><use id="k64-9" href="#lG" x="500"/><use id="k64-10" href="#lG" x="552"/></g>
<g id="row65" transform="translate(0,3328)"><use id="k65-1" href="#rR" x="84"/><use id="k65-2" href="#rR" x="136"/><use id="k65-3" href="#rR" x="188"/><use id="k65-4" href="#rR" x="240"/><use id="k65-5" href="#rR" x="292"/><use id="k65-6" href="#rG" x="344"/><use id="k65-7" href="#rG" x="396"/><use id="k65-8" href="#rR" x="448"/><use id="k65-9" href="#rG" x="500"/><use id="k65-10" href="#rG" x="552"/></g>
<g id="row66" transform="translate(0,3380)"><use id="k66-1" href="#lR" x="84"/><use id="k66-2" href="#lR" x="136"/><use id="k66-3" href="#lR" x="188"/><use id="k66-4" href="#lR" x="240"/><use id="k66-5" href="#lR" x="292"/><use id="k66-6" href="#lG" x="344"/><use id="k66-7" href="#lG" x="396"/><use id="k66-8" href="#lG" x="448"/><use id="k66-9" href="#lG" x="500"/><use id="k66-10" href="#lG" x="552"/></g>
<g id="row67" transform="translate(0,3432)"><use id="k67-1" href="#rR" x="84"/><use id="k67-2" href="#rR" x="136"/><use id="k67-3" href="#rR" x="188"/><use id="k67-4" href="#rG" x="240"/><use id="k67-5" href="#rG" x="292"/><use id="k67-6" href="#rR" x="344"/><use id="k67-7" href="#rG" x="396"/><use id="k67-8" href="#rR" x="448"/><use id="k67-9" href="#rR" x="500"/><use id="k67-10" href="#rG" x="552"/></g>
<g id="row68" transform="translate(0,3484)"><use id="k68-1" href="#lR" x="84"/><use id="k68-2" href="#lG" x="136"/><use id="k68-3" href="#lG" x="188"/><use id="k68-4" href="#lR" x="240"/><use id="k68-5" href="#lD" x="292"/><use id="k68-6" href="#lD" x="344"/><use id="k68-7" href="#lD" x="396"/><use id="k68-8" href="#lG" x="448"/><use id="k68-9" href="#lG" x="500"/><use id="k68-10" href="#lR" x="552"/></g>
<g id="row69" transform="translate(0,3536)"><use id="k69-1" href="#rR" x="84"/><use id="k69-2" href="#rG" x="136"/><use id="k69-3" href="#rG" x="188"/><use id="k69-4" href="#rG" x="240"/><use id="k69-5" href="#rG" x="292"/><use id="k69-6" href="#rD" x="344"/><use id="k69-7" href="#rG" x="396"/><use id="k69-8" href="#rD" x="448"/><use id="k69-9" href="#rD" x="500"/><use id="k69-10" href="#rG" x="552"/></g>
<g id="row70" transform="translate(0,3588)"><use id="k70-1" href="#lR" x="84"/><use id="k70-2" href="#lR" x="136"/><use id="k70-3" href="#lR" x="188"/><use id="k70-4" href="#lG" x="240"/><use id="k70-5" href="#lD" x="292"/><use id="k70-6" href="#lG" x="344"/><use id="k70-7" href="#lD" x="396"/><use id="k70-8" href="#lD" x="448"/><use id="k70-9" href="#lG" x="500"/><use id="k70-10" href="#lR" x="552"/></g>
</g>
<text id="watermark" x="327" y="1799.5" text-anchor="middle" font-family="'Liberation Sans',Arial,sans-serif" font-weight="bold" font-size="16" textLength="160" lengthAdjust="spacingAndGlyphs" fill="#333" stroke="#fff" stroke-opacity="0.7" stroke-width="3" paint-order="stroke">BRACELETBOOK.COM</text>
</g>
</svg>
